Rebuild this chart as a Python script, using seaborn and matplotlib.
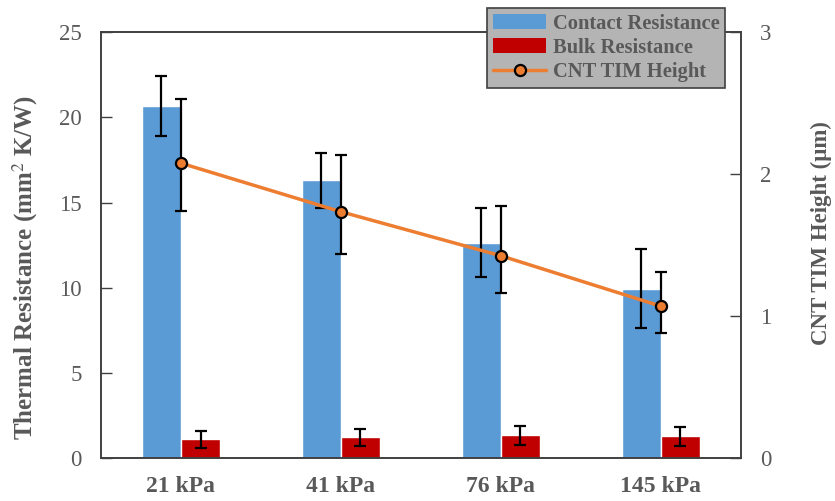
import pandas as pd
import matplotlib
matplotlib.use("Agg")
import matplotlib.pyplot as plt
import seaborn as sns
from matplotlib.patches import Patch
from matplotlib.lines import Line2D

# data
pressures = ["21 kPa", "41 kPa", "76 kPa", "145 kPa"]
contact_res = [20.67, 16.31, 12.63, 9.94]
contact_err = [1.76, 1.62, 2.02, 2.32]
bulk_res = [1.10, 1.21, 1.33, 1.27]
bulk_err = [0.49, 0.52, 0.54, 0.55]
cnt_height = [2.077, 1.735, 1.425, 1.070]
cnt_err_low = [0.34, 0.30, 0.26, 0.19]
cnt_err_high = [0.45, 0.40, 0.35, 0.24]

BLUE = "#5B9BD5"
RED = "#C00000"
ORANGE = "#ED7D31"
GRAY = "#595959"

sns.set_theme(style="white")
plt.rcParams["font.family"] = ["Liberation Serif", "DejaVu Serif"]
plt.rcParams["mathtext.fontset"] = "stix"

df = pd.DataFrame({
    "pressure": pressures * 2,
    "value": contact_res + bulk_res,
    "err": contact_err + bulk_err,
    "series": ["Contact Resistance"] * 4 + ["Bulk Resistance"] * 4,
})

fig = plt.figure(figsize=(8.35, 5.01), dpi=100)
ax = fig.add_axes([0.121, 0.0858, 0.766, 0.850])

sns.barplot(data=df, x="pressure", y="value", hue="series",
            palette=[BLUE, RED], width=0.49, errorbar=None,
            saturation=1, ax=ax, legend=False)

# error bars at the bar centres
for patch, (_, row) in zip(ax.patches, df.iterrows()):
    xc = patch.get_x() + patch.get_width() / 2
    ax.errorbar(xc, row["value"], yerr=row["err"], fmt="none",
                ecolor="black", elinewidth=1.6, capsize=4.5, capthick=1.6,
                zorder=5)

ax.set_ylim(0, 25)
ax.set_yticks([0, 5, 10, 15, 20, 25])
ax.set_xlim(-0.5, 3.5)
ax.set_xlabel("")
ax.set_ylabel("Thermal Resistance (mm$^2$ K/W)", fontsize=18,
              fontweight="bold", color=GRAY)
ax.yaxis.set_label_coords(-0.096, 0.447)
ax.tick_params(axis="y", direction="in", length=8, width=1, color="#404040",
               labelsize=16.5, labelcolor=GRAY, pad=14, left=True)
ax.tick_params(axis="x", length=0, labelsize=17, labelcolor=GRAY, pad=13)
for lbl in ax.get_xticklabels():
    lbl.set_fontweight("bold")

ax2 = ax.twinx()
ax2.errorbar(range(len(pressures)), cnt_height,
             yerr=[cnt_err_low, cnt_err_high], color=ORANGE, lw=2.5,
             marker="o", markersize=8, markerfacecolor=ORANGE,
             markeredgecolor="black", markeredgewidth=1.6,
             ecolor="black", elinewidth=1.6, capsize=4.5, capthick=1.6,
             zorder=6)
ax2.set_ylim(0, 3)
ax2.set_yticks([0, 1, 2, 3])
ax2.set_ylabel("CNT TIM Height (μm)", fontsize=16.5, fontweight="bold",
               color=GRAY)
ax2.yaxis.set_label_coords(1.11, 0.528)
ax2.tick_params(axis="y", direction="in", length=8, width=1, color="#404040",
                labelsize=16.5, labelcolor=GRAY, pad=14, right=True)
ax2.set_xlim(-0.5, 3.5)

for a in (ax, ax2):
    for s in a.spines.values():
        s.set_color("#404040")
        s.set_linewidth(1.2)

handles = [
    Patch(facecolor=BLUE, edgecolor="none"),
    Patch(facecolor=RED, edgecolor="none"),
    Line2D([], [], color=ORANGE, lw=2.5, marker="o", markersize=8,
           markerfacecolor=ORANGE, markeredgecolor="black",
           markeredgewidth=1.6),
]
leg = ax2.legend(handles, ["Contact Resistance", "Bulk Resistance",
                           "CNT TIM Height"],
                 loc="upper left", bbox_to_anchor=(0.583, 0.985),
                 bbox_transform=fig.transFigure, frameon=True, fancybox=False,
                 facecolor="#B4B4B4", edgecolor="#404040", framealpha=1,
                 handlelength=2.6, handleheight=0.7, handletextpad=0.3,
                 borderpad=0.3, labelspacing=0.2, borderaxespad=0,
                 prop={"family": "Liberation Serif", "weight": "bold",
                       "size": 14.8})
leg.get_frame().set_linewidth(1.2)
for t in leg.get_texts():
    t.set_color(GRAY)
leg.set_zorder(20)

fig.savefig("out.png", dpi=100)
